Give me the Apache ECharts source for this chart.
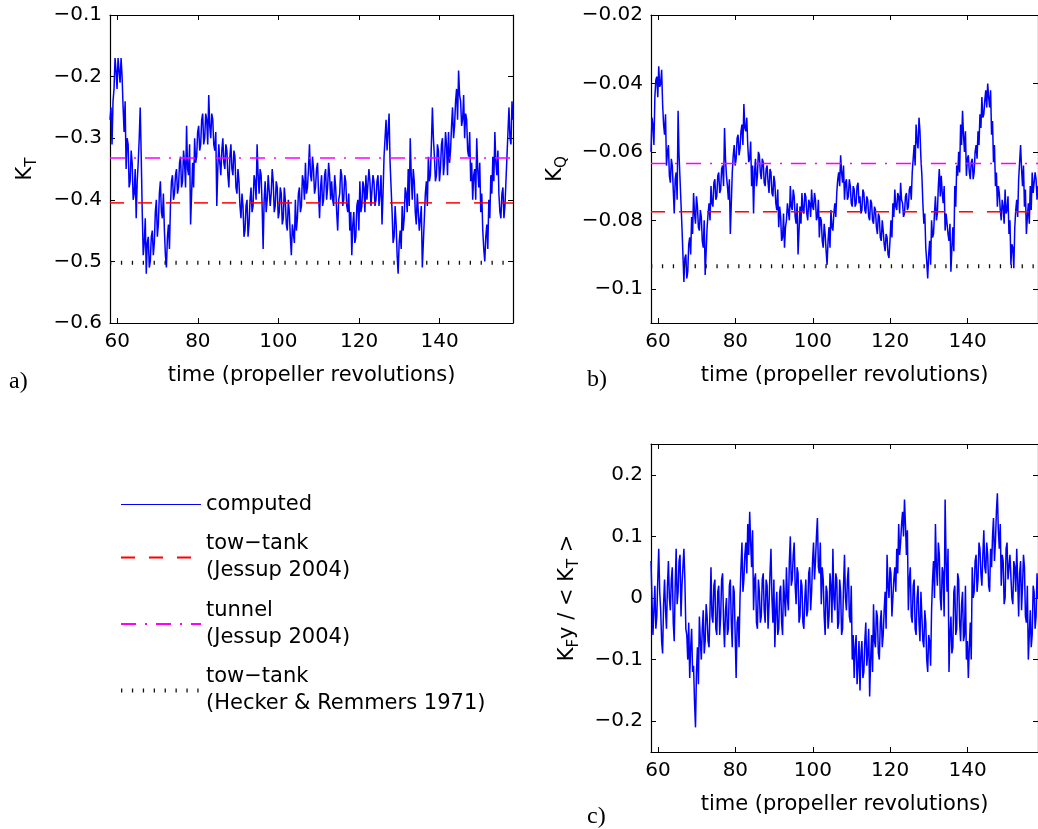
<!DOCTYPE html>
<html>
<head>
<meta charset="utf-8">
<script src="https://cdn.jsdelivr.net/npm/echarts@6/dist/echarts.min.js"></script>
<style>
html, body { margin: 0; padding: 0; background: #fff; }
#main { width: 1038px; height: 829px; }
</style>
</head>
<body>
<div id="main"></div>
<script>
// time axis (propeller revolutions): values read every half revolution,
// plus a second reading a quarter revolution later (the noise band)
var tStart = 58.2;
var tStep = 0.5;
var tEnd = 158.2;
var timeTicks = [60, 80, 100, 120, 140];

// a) thrust coefficient K_T
var ktHalf = [
    -0.27, -0.31, -0.22, -0.19, -0.17, -0.21, -0.20, -0.29, -0.35, -0.31,
    -0.37, -0.34, -0.39, -0.43, -0.34, -0.25, -0.42, -0.47, -0.52, -0.46,
    -0.50, -0.45, -0.47, -0.40, -0.44, -0.37, -0.43, -0.45, -0.51, -0.44,
    -0.41, -0.36, -0.39, -0.35, -0.38, -0.33, -0.37, -0.34, -0.28, -0.36,
    -0.44, -0.34, -0.30, -0.33, -0.28, -0.31, -0.26, -0.30, -0.27, -0.23,
    -0.30, -0.27, -0.32, -0.41, -0.31, -0.36, -0.30, -0.35, -0.32, -0.38,
    -0.31, -0.36, -0.33, -0.39, -0.37, -0.43, -0.41, -0.45, -0.40, -0.44,
    -0.38, -0.41, -0.37, -0.31, -0.39, -0.36, -0.48, -0.37, -0.40, -0.36,
    -0.39, -0.37, -0.41, -0.38, -0.42, -0.39, -0.43, -0.40, -0.45, -0.42,
    -0.49, -0.44, -0.40, -0.43, -0.38, -0.41, -0.37, -0.34, -0.38, -0.31,
    -0.37, -0.35, -0.38, -0.34, -0.43, -0.36, -0.40, -0.35, -0.38, -0.36,
    -0.37, -0.41, -0.38, -0.45, -0.39, -0.36, -0.40, -0.37, -0.42, -0.45,
    -0.49, -0.42, -0.46, -0.40, -0.37, -0.41, -0.38, -0.36, -0.40, -0.37,
    -0.41, -0.37, -0.40, -0.36, -0.39, -0.44, -0.33, -0.27, -0.29, -0.34,
    -0.42, -0.46, -0.44, -0.52, -0.45, -0.41, -0.43, -0.39, -0.35, -0.30,
    -0.40, -0.37, -0.44, -0.42, -0.45, -0.51, -0.43, -0.37, -0.33, -0.36,
    -0.25, -0.33, -0.36, -0.32, -0.35, -0.30, -0.34, -0.31, -0.29, -0.32,
    -0.25, -0.28, -0.22, -0.19, -0.24, -0.27, -0.30, -0.27, -0.33, -0.37,
    -0.40, -0.35, -0.30, -0.38, -0.42, -0.45, -0.50, -0.44, -0.40, -0.36,
    -0.33, -0.29, -0.36, -0.39, -0.43, -0.38, -0.41, -0.33, -0.25, -0.31,
    -0.27
];
var ktQuarter = [
    -0.25, -0.24, -0.17, -0.22, -0.19, -0.17, -0.25, -0.24, -0.30, -0.38,
    -0.32, -0.40, -0.35, -0.37, -0.30, -0.33, -0.49, -0.43, -0.47, -0.51,
    -0.46, -0.49, -0.42, -0.46, -0.39, -0.42, -0.39, -0.49, -0.46, -0.48,
    -0.37, -0.40, -0.36, -0.39, -0.34, -0.38, -0.32, -0.38, -0.35, -0.31,
    -0.39, -0.38, -0.34, -0.29, -0.32, -0.27, -0.31, -0.26, -0.31, -0.28,
    -0.26, -0.31, -0.29, -0.35, -0.34, -0.32, -0.34, -0.31, -0.36, -0.33,
    -0.35, -0.32, -0.38, -0.35, -0.41, -0.39, -0.46, -0.41, -0.46, -0.40,
    -0.42, -0.36, -0.40, -0.36, -0.35, -0.41, -0.40, -0.42, -0.36, -0.41,
    -0.35, -0.42, -0.37, -0.43, -0.38, -0.44, -0.38, -0.44, -0.40, -0.46,
    -0.44, -0.47, -0.45, -0.39, -0.42, -0.36, -0.40, -0.39, -0.35, -0.36,
    -0.33, -0.39, -0.35, -0.39, -0.38, -0.41, -0.36, -0.40, -0.34, -0.40,
    -0.40, -0.36, -0.42, -0.40, -0.35, -0.41, -0.36, -0.41, -0.39, -0.42,
    -0.44, -0.47, -0.41, -0.45, -0.42, -0.37, -0.42, -0.40, -0.35, -0.41,
    -0.36, -0.41, -0.37, -0.41, -0.36, -0.39, -0.30, -0.32, -0.26, -0.38,
    -0.47, -0.41, -0.49, -0.47, -0.48, -0.45, -0.38, -0.42, -0.41, -0.36,
    -0.35, -0.42, -0.39, -0.45, -0.41, -0.47, -0.39, -0.41, -0.37, -0.31,
    -0.30, -0.37, -0.31, -0.37, -0.31, -0.36, -0.29, -0.36, -0.34, -0.28,
    -0.30, -0.24, -0.27, -0.23, -0.28, -0.23, -0.26, -0.32, -0.29, -0.34,
    -0.36, -0.40, -0.35, -0.34, -0.39, -0.48, -0.46, -0.48, -0.43, -0.39,
    -0.37, -0.34, -0.32, -0.42, -0.39, -0.43, -0.37, -0.29, -0.30, -0.24
];

// b) torque coefficient K_Q
var kqHalf = [
    -0.060, -0.052, -0.044, -0.038, -0.035, -0.040, -0.046, -0.055, -0.064, -0.058,
    -0.069, -0.064, -0.078, -0.066, -0.048, -0.068, -0.082, -0.098, -0.090, -0.095,
    -0.085, -0.079, -0.072, -0.081, -0.076, -0.083, -0.079, -0.088, -0.096, -0.082,
    -0.075, -0.070, -0.076, -0.068, -0.073, -0.066, -0.071, -0.064, -0.053, -0.067,
    -0.074, -0.084, -0.066, -0.058, -0.062, -0.055, -0.059, -0.052, -0.046, -0.054,
    -0.058, -0.062, -0.070, -0.078, -0.062, -0.067, -0.061, -0.068, -0.063, -0.070,
    -0.064, -0.072, -0.066, -0.073, -0.069, -0.077, -0.082, -0.079, -0.085, -0.088,
    -0.080, -0.075, -0.070, -0.077, -0.073, -0.081, -0.090, -0.076, -0.072, -0.078,
    -0.073, -0.080, -0.075, -0.071, -0.077, -0.074, -0.079, -0.085, -0.080, -0.088,
    -0.084, -0.093, -0.082, -0.077, -0.083, -0.075, -0.072, -0.066, -0.061, -0.069,
    -0.074, -0.068, -0.073, -0.070, -0.076, -0.071, -0.075, -0.069, -0.073, -0.077,
    -0.072, -0.078, -0.074, -0.080, -0.075, -0.081, -0.077, -0.084, -0.079, -0.086,
    -0.083, -0.089, -0.085, -0.091, -0.080, -0.075, -0.071, -0.077, -0.073, -0.069,
    -0.075, -0.078, -0.072, -0.076, -0.070, -0.066, -0.058, -0.052, -0.059, -0.054,
    -0.067, -0.081, -0.088, -0.097, -0.086, -0.080, -0.084, -0.073, -0.078, -0.065,
    -0.067, -0.075, -0.083, -0.078, -0.086, -0.095, -0.082, -0.070, -0.064, -0.060,
    -0.052, -0.048, -0.060, -0.067, -0.061, -0.068, -0.062, -0.066, -0.058, -0.054,
    -0.049, -0.044, -0.049, -0.042, -0.040, -0.047, -0.055, -0.063, -0.070, -0.076,
    -0.072, -0.080, -0.076, -0.071, -0.077, -0.084, -0.093, -0.088, -0.082, -0.074,
    -0.068, -0.058, -0.070, -0.076, -0.084, -0.075, -0.070, -0.066, -0.072, -0.068,
    -0.070
];
var kqQuarter = [
    -0.050, -0.058, -0.039, -0.044, -0.041, -0.036, -0.052, -0.049, -0.060, -0.067,
    -0.062, -0.071, -0.068, -0.074, -0.061, -0.075, -0.090, -0.091, -0.097, -0.087,
    -0.090, -0.084, -0.078, -0.073, -0.082, -0.077, -0.086, -0.080, -0.089, -0.078,
    -0.080, -0.075, -0.069, -0.074, -0.067, -0.072, -0.065, -0.070, -0.062, -0.070,
    -0.068, -0.075, -0.061, -0.064, -0.056, -0.061, -0.054, -0.058, -0.053, -0.050,
    -0.063, -0.057, -0.064, -0.066, -0.070, -0.060, -0.066, -0.062, -0.069, -0.065,
    -0.069, -0.065, -0.072, -0.067, -0.075, -0.071, -0.076, -0.086, -0.078, -0.082,
    -0.075, -0.080, -0.076, -0.071, -0.079, -0.075, -0.083, -0.081, -0.077, -0.072,
    -0.078, -0.074, -0.079, -0.076, -0.072, -0.080, -0.074, -0.079, -0.086, -0.081,
    -0.089, -0.086, -0.088, -0.082, -0.078, -0.079, -0.068, -0.070, -0.066, -0.064,
    -0.069, -0.074, -0.068, -0.075, -0.070, -0.076, -0.070, -0.075, -0.078, -0.071,
    -0.077, -0.073, -0.079, -0.074, -0.080, -0.076, -0.082, -0.078, -0.085, -0.080,
    -0.087, -0.084, -0.090, -0.086, -0.085, -0.079, -0.076, -0.072, -0.078, -0.074,
    -0.079, -0.073, -0.077, -0.071, -0.074, -0.062, -0.064, -0.057, -0.050, -0.062,
    -0.075, -0.078, -0.092, -0.090, -0.093, -0.085, -0.078, -0.080, -0.070, -0.073,
    -0.072, -0.070, -0.078, -0.084, -0.081, -0.088, -0.089, -0.076, -0.067, -0.066,
    -0.058, -0.055, -0.054, -0.062, -0.066, -0.063, -0.068, -0.060, -0.062, -0.058,
    -0.053, -0.050, -0.045, -0.047, -0.044, -0.042, -0.051, -0.058, -0.066, -0.070,
    -0.077, -0.074, -0.081, -0.078, -0.073, -0.080, -0.087, -0.094, -0.077, -0.079,
    -0.063, -0.065, -0.064, -0.071, -0.079, -0.081, -0.077, -0.072, -0.066, -0.074
];

// c) side force K_Fy / <K_T>
var kfyHalf = [
    0.06, -0.06, 0.02, -0.03, 0.08, -0.02, -0.09, 0.03, -0.05, 0.06,
    -0.02, 0.05, -0.07, 0.08, 0.01, 0.07, 0.02, 0.08, -0.05, -0.10,
    -0.13, -0.05, -0.11, -0.21, -0.08, -0.03, -0.10, -0.02, -0.07, -0.03,
    -0.08, 0.05, -0.04, 0.03, -0.06, 0.02, -0.03, 0.04, -0.08, 0.00,
    -0.05, 0.03, -0.08, 0.01, -0.13, -0.03, 0.00, 0.09, 0.03, 0.09,
    0.12, 0.14, 0.05, -0.02, 0.04, -0.05, 0.01, -0.03, 0.04, -0.04,
    0.02, -0.01, 0.08, -0.04, -0.08, 0.01, -0.05, 0.02, -0.06, 0.00,
    0.05, -0.02, 0.10, 0.03, 0.09, -0.01, 0.04, -0.03, 0.02, -0.05,
    0.03, -0.02, 0.05, 0.01, 0.09, 0.06, 0.13, 0.04, -0.01, 0.03,
    -0.06, 0.01, -0.03, 0.02, 0.08, -0.02, 0.03, -0.04, 0.01, -0.05,
    0.07, -0.02, 0.05, -0.04, -0.10, -0.13, -0.06, -0.11, -0.15, -0.07,
    -0.12, -0.04, -0.09, -0.16, -0.06, -0.01, -0.08, -0.03, -0.10, -0.02,
    -0.06, 0.01, 0.07, 0.00, 0.04, -0.03, 0.05, 0.08, 0.12, 0.09,
    0.14, 0.16, 0.07, -0.02, 0.05, -0.04, 0.03, -0.06, 0.02, -0.07,
    -0.03, -0.08, -0.04, -0.12, -0.07, -0.02, 0.06, 0.12, 0.02, 0.07,
    -0.02, 0.04, 0.16, 0.01, -0.12, -0.03, -0.08, 0.02, -0.05, 0.03,
    -0.07, 0.01, -0.06, -0.10, -0.13, -0.04, 0.05, 0.01, 0.07, 0.03,
    0.08, 0.02, 0.11, 0.04, 0.07, 0.01, 0.05, 0.13, 0.09, 0.17,
    0.08, 0.02, 0.06, 0.00, 0.09, 0.03, 0.07, -0.01, 0.05, 0.08,
    -0.03, 0.06, 0.02, 0.05, -0.04, -0.10, -0.02, -0.06, 0.01, -0.03,
    0.00
];
var kfyQuarter = [
    0.00, -0.02, -0.05, 0.03, 0.01, -0.07, -0.01, -0.02, 0.02, 0.00,
    0.03, -0.04, 0.02, -0.01, 0.06, -0.03, 0.05, 0.03, -0.06, -0.04,
    -0.08, -0.12, -0.17, -0.12, -0.14, -0.07, -0.05, -0.09, -0.01, -0.07,
    -0.02, -0.03, 0.02, -0.05, 0.01, -0.06, 0.03, -0.04, -0.02, -0.06,
    0.02, -0.04, 0.02, -0.06, -0.04, -0.08, 0.05, 0.01, 0.07, 0.04,
    0.07, 0.09, 0.11, 0.03, -0.04, 0.03, -0.04, 0.03, -0.02, 0.03,
    -0.05, 0.04, 0.00, 0.03, -0.02, -0.06, 0.01, -0.04, 0.03, -0.03,
    0.00, 0.06, 0.02, 0.07, 0.02, 0.05, -0.04, 0.03, -0.04, 0.00,
    -0.03, 0.04, -0.02, 0.06, 0.03, 0.10, 0.05, 0.09, 0.05, -0.03,
    0.02, -0.05, 0.04, -0.04, 0.00, 0.04, -0.05, 0.03, -0.06, 0.02,
    0.00, 0.03, -0.03, 0.02, -0.06, -0.08, -0.14, -0.07, -0.09, -0.13,
    -0.07, -0.11, -0.05, -0.10, -0.12, -0.07, -0.02, -0.09, -0.04, -0.08,
    -0.02, -0.05, 0.02, 0.05, -0.03, 0.03, 0.01, 0.04, 0.07, 0.12,
    0.10, 0.12, 0.11, 0.03, -0.03, 0.02, -0.05, 0.00, -0.04, 0.01,
    -0.07, -0.02, -0.10, -0.06, -0.11, 0.03, 0.00, 0.05, 0.09, 0.00,
    0.05, -0.03, 0.06, 0.08, -0.06, -0.09, 0.01, -0.06, 0.04, -0.04,
    -0.01, -0.07, 0.02, -0.07, -0.08, -0.10, 0.00, 0.06, 0.01, 0.09,
    0.04, 0.07, 0.05, 0.09, 0.02, 0.08, 0.10, 0.06, 0.14, 0.11,
    0.12, 0.07, -0.01, 0.08, 0.03, 0.07, 0.00, 0.06, 0.01, 0.03,
    0.04, -0.02, 0.07, -0.03, 0.02, -0.06, -0.08, 0.02, -0.05, 0.04
];

// measured reference levels: tow-tank (Jessup), tunnel (Jessup), tow-tank (Hecker & Remmers)
var refNames = ['tow−tank\n(Jessup 2004)', 'tunnel\n(Jessup 2004)', 'tow−tank\n(Hecker & Remmers 1971)'];
var ktRefs = [-0.405, -0.332, -0.502];
var kqRefs = [-0.0775, -0.0634, -0.0934];

var ktTicks = [-0.6, -0.5, -0.4, -0.3, -0.2, -0.1];
var kqTicks = [-0.1, -0.08, -0.06, -0.04, -0.02];
var kfyTicks = [-0.2, -0.1, 0, 0.1, 0.2];

var FONT = 'DejaVu Sans';
var refStyles = [
    {color: '#ff0000', width: 1.5, type: [14, 14]},
    {color: '#ff00ff', width: 1.5, type: [15, 9, 2, 9]},
    {color: '#111111', width: 4, type: [1.3, 9.6], cap: 'butt'}
];

function interleave(half, quarter) {
    var out = [];
    for (var i = 0; i < half.length; i++) {
        var t = tStart + i * tStep;
        out.push([+t.toFixed(2), half[i]]);
        if (i < quarter.length) {
            out.push([+(t + tStep / 2).toFixed(2), quarter[i]]);
        }
    }
    return out;
}

function minusSign(v) {
    return String(v).replace('-', '\u2212');
}

var subRich = {
    k: {fontFamily: FONT, fontSize: 21, color: '#000'},
    s: {fontFamily: FONT, fontSize: 15, color: '#000', padding: [14, 0, 0, 0]}
};

function xAxes(gi) {
    var base = {
        type: 'value',
        gridIndex: gi,
        min: tStart,
        max: tEnd,
        splitLine: {show: false},
        axisLine: {onZero: false, lineStyle: {color: '#000', width: 1.2}},
        axisTick: {inside: true, length: 5, customValues: timeTicks, lineStyle: {color: '#000'}}
    };
    var bottom = echarts.util.merge({
        position: 'bottom',
        axisLabel: {customValues: timeTicks, margin: 9, color: '#000', fontFamily: FONT, fontSize: 20},
        name: 'time (propeller revolutions)',
        nameLocation: 'middle',
        nameGap: 42,
        nameTextStyle: {color: '#000', fontFamily: FONT, fontSize: 21}
    }, base, true);
    var top = echarts.util.merge({position: 'top', axisLabel: {show: false}}, base, true);
    return [bottom, top];
}

function yAxes(gi, lo, hi, ticks, name, gap) {
    var base = {
        type: 'value',
        gridIndex: gi,
        min: lo,
        max: hi,
        splitLine: {show: false},
        axisLine: {show: true, onZero: false, lineStyle: {color: '#000', width: 1.2}},
        axisTick: {show: true, inside: true, length: 5, customValues: ticks, lineStyle: {color: '#000'}}
    };
    var left = echarts.util.merge({
        position: 'left',
        axisLabel: {
            customValues: ticks, margin: 8, color: '#000', fontFamily: FONT, fontSize: 20,
            formatter: minusSign
        },
        name: name,
        nameLocation: 'middle',
        nameRotate: 90,
        nameGap: gap,
        nameTextStyle: {color: '#000', fontFamily: FONT, fontSize: 21, rich: subRich}
    }, base, true);
    var right = echarts.util.merge({position: 'right', axisLabel: {show: false}}, base, true);
    return [left, right];
}

var series = [];
function addPanel(gi, half, quarter, refs) {
    series.push({
        name: 'computed',
        type: 'line',
        xAxisIndex: gi * 2,
        yAxisIndex: gi * 2,
        symbol: 'none',
        data: interleave(half, quarter),
        lineStyle: {color: '#0000ff', width: 1.5},
        itemStyle: {color: '#0000ff'},
        z: 2
    });
    if (!refs) return;
    refs.forEach(function (v, k) {
        series.push({
            name: refNames[k],
            type: 'line',
            xAxisIndex: gi * 2,
            yAxisIndex: gi * 2,
            symbol: 'none',
            data: [[tStart, v], [tEnd, v]],
            lineStyle: refStyles[k],
            itemStyle: {color: refStyles[k].color},
            z: 3
        });
    });
}
addPanel(0, ktHalf, ktQuarter, ktRefs);
addPanel(1, kqHalf, kqQuarter, kqRefs);
addPanel(2, kfyHalf, kfyQuarter, null);

var panelTag = {fontFamily: 'Liberation Serif', fontSize: 24, fill: '#000'};

var option = {
    animation: false,
    backgroundColor: '#fff',
    grid: [
        {left: 110, top: 15, width: 403, height: 308},
        {left: 651, top: 15, width: 392, height: 308},
        {left: 651, top: 444, width: 392, height: 308}
    ],
    xAxis: xAxes(0).concat(xAxes(1), xAxes(2)),
    yAxis: yAxes(0, -0.6, -0.1, ktTicks, '{k|K}{s|T}', 70)
        .concat(yAxes(1, -0.11, -0.02, kqTicks, '{k|K}{s|Q}', 81))
        .concat(yAxes(2, -0.25, 0.25, kfyTicks, '{k|K}{s|F}{k|y / < K}{s|T}{k| >}', 69)),
    legend: {
        orient: 'vertical',
        left: 119,
        top: 491,
        padding: 0,
        itemGap: 12.5,
        itemWidth: 80,
        itemHeight: 14,
        selectedMode: false,
        itemStyle: {opacity: 0},
        textStyle: {fontFamily: FONT, fontSize: 21, lineHeight: 27, color: '#000'},
        data: [
            {name: 'computed', lineStyle: {width: 1.2}},
            refNames[0],
            refNames[1],
            {name: refNames[2], lineStyle: {width: 4}}
        ]
    },
    graphic: [
        {type: 'text', left: 9, top: 370, style: echarts.util.extend({text: 'a)'}, panelTag)},
        {type: 'text', left: 587, top: 368, style: echarts.util.extend({text: 'b)'}, panelTag)},
        {type: 'text', left: 587, top: 805, style: echarts.util.extend({text: 'c)'}, panelTag)}
    ],
    series: series
};

var chart = echarts.init(document.getElementById('main'));
chart.setOption(option);
</script>
</body>
</html>
